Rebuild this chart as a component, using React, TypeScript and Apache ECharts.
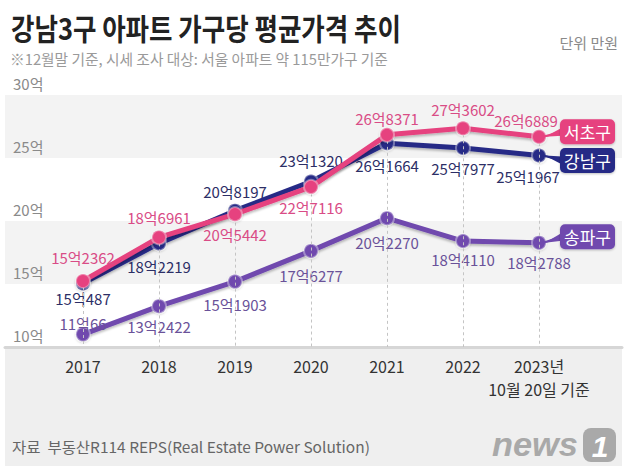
import React, { useEffect, useRef } from "react";
import * as echarts from "echarts";

const years = ["2017", "2018", "2019", "2020", "2021", "2022", "2023"];
const xLabels = ["2017", "2018", "2019", "2020", "2021", "2022", "2023년\n10월 20일 기준"];
// values in 만원
const gangnam = [150487, 182219, 208197, 231320, 261664, 257977, 251967];
const seocho = [152362, 186961, 205442, 227116, 268371, 273602, 266889];
const songpa = [110066, 132422, 151903, 176277, 202270, 184110, 182788];
const seriesNames = ["서초구", "강남구", "송파구"];
const yMin = 100000;
const yMax = 300000;
const yStep = 50000;

const gangnamPos = ["bottom", "bottom", "top", "top", "bottom", "bottom", "bottom"];
const seochoPos = ["top", "top", "bottom", "bottom", "top", "top", "top"];
const songpaPos = ["top", "bottom", "bottom", "bottom", "bottom", "bottom", "bottom"];
const gangnamDist = [0, 8, 4, 6, 7, 5, 5];
const seochoDist = [8, 4, 5, 5, 1, 3, 1];
const songpaDist = [-5, 5, 7, 9, 9, 3, 4];

const TITLE = "강남3구 아파트 가구당 평균가격 추이";
const SUBTITLE = "※12월말 기준, 시세 조사 대상: 서울 아파트 약 115만가구 기준";
const UNIT = "단위 만원";
const SOURCE = "자료  부동산R114 REPS(Real Estate Power Solution)";

const PINK = "#e6427f";
const NAVY = "#272b86";
const PURPLE = "#6f4aae";
const KR = "'Noto Sans CJK KR', 'Noto Sans', sans-serif";
const NUM = "'Liberation Sans Narrow', 'Noto Sans CJK KR', sans-serif";

const fmt = (v: number) => `${Math.floor(v / 10000)}억${v % 10000}`;

function measure(text: string, font: string) {
  const c = document.createElement("canvas").getContext("2d");
  if (!c) return 100;
  c.font = font;
  return c.measureText(text).width;
}

export default function App() {
  const ref = useRef<HTMLDivElement>(null);
  useEffect(() => {
    document.body.style.margin = "0";
    if (!ref.current) return;
    const chart = echarts.init(ref.current, undefined, { renderer: "svg" });

    const titleFont = `bold 30px "Noto Sans CJK KR"`;
    const subFont = `15px "Noto Sans CJK KR"`;
    const srcFont = `15px "Noto Sans CJK KR"`;
    const logoFont = `italic bold 34px "Liberation Sans"`;
    const sTitle = 390 / measure(TITLE, titleFont);
    const sSub = 378 / measure(SUBTITLE, subFont);
    const sSrc = 358 / measure(SOURCE, srcFont);
    const sLogo = 86 / measure("news", logoFont);

    const topVals = years.map((_, i) => Math.max(gangnam[i], seocho[i], songpa[i]));

    const lineSeries = (
      name: string,
      vals: number[],
      pos: string[],
      dist: number[],
      color: string,
      labelColor: string,
      dx: number[],
      z: number
    ) => ({
      type: "line",
      name,
      xAxisIndex: 1,
      yAxisIndex: 1,
      data: vals.map((v, i) => ({
        value: v,
        label: { position: pos[i], distance: dist[i], offset: [dx[i], 0] },
      })),
      z,
      symbol: "circle",
      symbolSize: 14,
      lineStyle: {
        color,
        width: 5,
        shadowColor: "rgba(0,0,0,0.25)",
        shadowBlur: 2,
        shadowOffsetY: 2,
      },
      itemStyle: {
        color,
        borderColor: "rgba(255,255,255,0.35)",
        borderWidth: 2,
        shadowColor: "rgba(0,0,0,0.2)",
        shadowBlur: 2,
        shadowOffsetY: 1,
      },
      label: {
        show: true,
        formatter: (p: any) => fmt(p.value),
        color: labelColor,
        fontFamily: NUM,
        fontSize: 15,
      },
    });

    const tagSeries = (name: string, vals: number[], color: string, dy: number, z: number) => ({
      type: "custom",
      name: name + "-tag",
      xAxisIndex: 1,
      yAxisIndex: 1,
      z,
      silent: true,
      data: [[years.length - 1, vals[vals.length - 1]]],
      renderItem: (params: any, api: any) => {
        const p = api.coord([api.value(0), api.value(1)]);
        const rx = p[0] + 21;
        const cy = p[1] + dy;
        return {
          type: "group",
          children: [
            {
              type: "polygon",
              shape: {
                points: [
                  [p[0] + 6, p[1]],
                  [rx + 2, cy - 4],
                  [rx + 2, cy + 4],
                ],
              },
              style: { fill: color },
            },
            {
              type: "line",
              shape: { x1: p[0] + 4, y1: p[1], x2: rx + 2, y2: cy },
              style: { stroke: color, lineWidth: 2 },
            },
            {
              type: "rect",
              shape: { x: rx, y: cy - 12.5, width: 55, height: 25, r: 5 },
              style: {
                fill: color,
                shadowColor: "rgba(0,0,0,0.25)",
                shadowBlur: 2,
                shadowOffsetY: 1,
              },
            },
            {
              type: "text",
              style: {
                text: name,
                x: rx + 27.5,
                y: cy,
                align: "center",
                verticalAlign: "middle",
                fill: "#ffffff",
                font: `17px "Noto Sans CJK KR"`,
              },
            },
          ],
        };
      },
    });

    chart.setOption({
      animation: false,
      backgroundColor: "#ffffff",
      grid: [
        { left: 5, right: 6, top: 95, bottom: 123 },
        { left: 45, right: 51, top: 95, bottom: 123 },
      ],
      xAxis: [
        {
          gridIndex: 0,
          type: "category",
          data: years,
          axisLine: { show: true, lineStyle: { color: "#d6d6d6", width: 3 } },
          axisTick: { show: false },
          axisLabel: { show: false },
          splitLine: { show: false },
        },
        {
          gridIndex: 1,
          type: "category",
          data: xLabels,
          boundaryGap: true,
          axisLine: { show: false },
          axisTick: { show: false },
          axisLabel: {
            interval: 0,
            color: "#333",
            fontFamily: NUM,
            fontSize: 16,
            margin: 7,
            lineHeight: 23,
          },
          splitLine: { show: false },
        },
      ],
      yAxis: [
        {
          gridIndex: 0,
          type: "value",
          min: yMin,
          max: yMax,
          interval: yStep,
          axisLine: { show: false },
          axisTick: { show: false },
          splitLine: { show: false },
          splitArea: { show: true, areaStyle: { color: ["#ffffff", "#f3f3f3"] } },
          axisLabel: {
            inside: true,
            margin: 8,
            verticalAlign: "bottom",
            padding: [0, 0, 4, 0],
            color: "#8a8a8a",
            fontFamily: NUM,
            fontSize: 15,
            formatter: (v: number) => `${v / 10000}억`,
          },
        },
        {
          gridIndex: 1,
          type: "value",
          min: yMin,
          max: yMax,
          interval: yStep,
          show: false,
          splitLine: { show: false },
        },
      ],
      series: [
        {
          type: "line",
          name: "guides",
          xAxisIndex: 1,
          yAxisIndex: 1,
          data: [],
          z: 1,
          markLine: {
            silent: true,
            symbol: "none",
            label: { show: false },
            lineStyle: { color: "#c4c4c4", type: [3, 3], width: 1 },
            data: years.map((y, i) => [
              { coord: [i, topVals[i]] },
              { coord: [i, yMin] },
            ]),
          },
        },
        lineSeries("송파구", songpa, songpaPos, songpaDist, PURPLE, "#6a5299", [0, 0, 0, 0, 0, 0, 0], 3),
        lineSeries("강남구", gangnam, gangnamPos, gangnamDist, NAVY, "#2c2e66", [0, 0, 0, 0, 0, 0, -11], 4),
        lineSeries("서초구", seocho, seochoPos, seochoDist, PINK, "#d94c86", [0, 0, 0, 0, 0, 0, -13], 5),
        tagSeries(seriesNames[0], seocho, PINK, -5, 6),
        tagSeries(seriesNames[1], gangnam, NAVY, 5, 6),
        tagSeries(seriesNames[2], songpa, PURPLE, -6, 6),
      ],
      graphic: [
        {
          type: "rect",
          z: -10,
          silent: true,
          shape: { x: 5, y: 348, width: 617, height: 118 },
          style: { fill: "#efefef" },
        },
        {
          type: "text",
          x: 11,
          y: 27,
          scaleX: sTitle,
          style: {
            text: TITLE,
            font: titleFont,
            fill: "#222",
            verticalAlign: "middle",
            align: "left",
          },
        },
        {
          type: "text",
          x: 10,
          y: 58,
          scaleX: sSub,
          style: {
            text: SUBTITLE,
            font: subFont,
            fill: "#9a9a9a",
            verticalAlign: "middle",
            align: "left",
          },
        },
        {
          type: "text",
          x: 618,
          y: 42,
          style: {
            text: UNIT,
            fontFamily: KR,
            fontSize: 15,
            fill: "#8a8a8a",
            verticalAlign: "middle",
            align: "right",
          },
        },
        {
          type: "text",
          x: 12,
          y: 446,
          scaleX: sSrc,
          style: {
            text: SOURCE,
            font: srcFont,
            fill: "#666",
            verticalAlign: "middle",
            align: "left",
          },
        },
        {
          type: "text",
          x: 492,
          y: 444,
          scaleX: sLogo,
          style: {
            text: "news",
            font: logoFont,
            fill: "#a9a9a9",
            verticalAlign: "middle",
            align: "left",
          },
        },
        {
          type: "rect",
          shape: { x: 583, y: 428, width: 33, height: 34, r: 8 },
          style: { fill: "#a9a9a9" },
        },
        {
          type: "text",
          x: 600,
          y: 446,
          style: {
            text: "1",
            font: `italic bold 30px "Liberation Sans"`,
            fill: "#ffffff",
            verticalAlign: "middle",
            align: "center",
          },
        },
      ],
    });
    return () => chart.dispose();
  }, []);
  return <div ref={ref} style={{ width: 628, height: 470 }} />;
}
